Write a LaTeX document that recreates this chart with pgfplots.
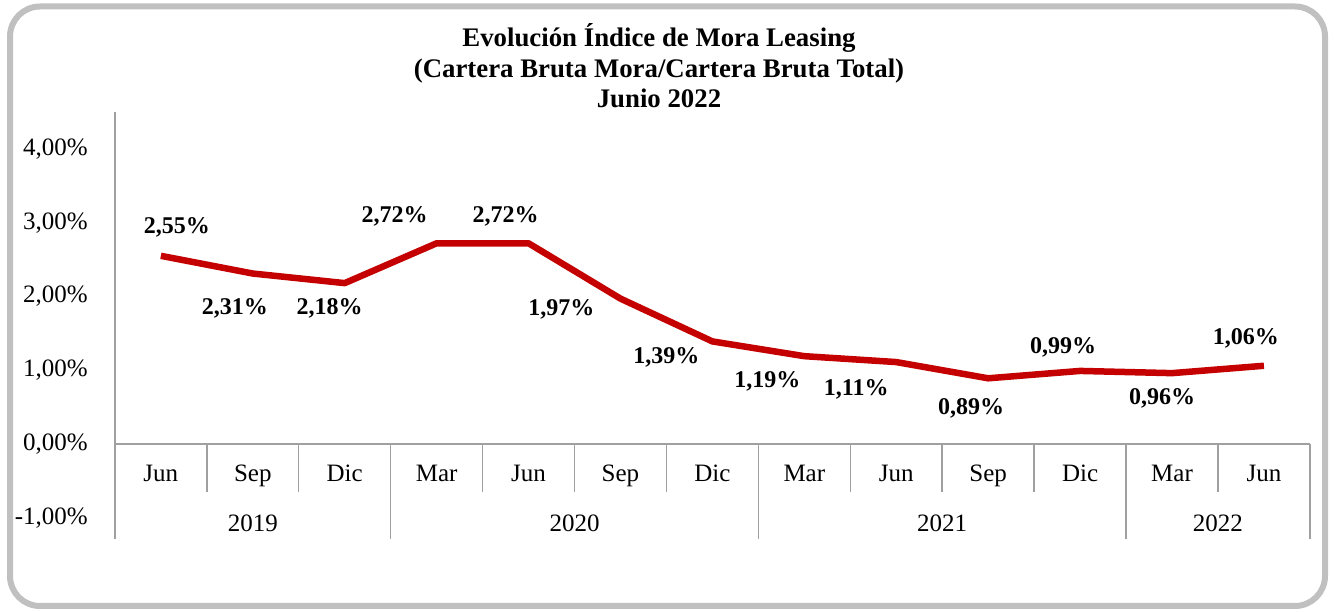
\documentclass[border=0pt]{standalone}
\usepackage{fontspec}
\setmainfont{Liberation Serif}
\usepackage{pgfplots}
\pgfplotsset{compat=1.18}
\usepackage{pgfplotstable}
\definecolor{linered}{RGB}{196,0,0}
\definecolor{axgray}{RGB}{160,160,160}
\definecolor{framegray}{RGB}{192,192,192}

\pgfplotstableread{
x y dx dy
0 2.55 16 28
1 2.31 -18 -34.5
2 2.18 -15 -25
3 2.72 -42 27
4 2.72 -23 27
5 1.97 -59 -11
6 1.39 -46 -16
7 1.19 -37 -25
8 1.11 -40 -27
9 0.89 -17 -30
10 0.99 -17 24
11 0.96 -10 -25
12 1.06 -18 27
}\data

\begin{document}
\begin{tikzpicture}[x=1pt,y=1pt]
\useasboundingbox (0,0) rectangle (1335,612);
\draw[framegray, line width=6pt, rounded corners=30pt] (10,6) rectangle (1325,605.5);
\node[font=\fontsize{26.8}{30.5}\selectfont\bfseries, align=center] at (659,546) {Evolución Índice de Mora Leasing\\(Cartera Bruta Mora/Cartera Bruta Total)\\Junio 2022};
\begin{axis}[
  at={(125,99)}, anchor=south west,
  scale only axis, width=1195pt, height=427pt,
  xmin=-0.5, xmax=12.5, ymin=-1.2873, ymax=4.5,
  axis lines=left, axis line style={draw=none,-},
  major tick length=0pt,
  clip=false,
  ytick={-1,0,1,2,3,4},
  yticklabels={{-1,00\%},{0,00\%},{1,00\%},{2,00\%},{3,00\%},{4,00\%}},
  yticklabel style={anchor=east, inner sep=0pt, xshift=-27pt},
  xtick={0,...,12},
  xticklabels={Jun,Sep,Dic,Mar,Jun,Sep,Dic,Mar,Jun,Sep,Dic,Mar,Jun},
  xticklabel style={anchor=base, inner sep=0pt, yshift=57pt},
  tick label style={font=\fontsize{25}{30}\selectfont},
]
\draw[axgray, line width=1.5pt] (axis cs:-0.5,4.5) -- (axis cs:-0.5,-1.2873);
\draw[axgray, line width=1.5pt] (axis cs:-0.5,0) -- (axis cs:12.5,0);
\draw[axgray, line width=1.5pt]
  (axis cs:0.5,0) -- (axis cs:0.5,-0.65)
  (axis cs:1.5,0) -- (axis cs:1.5,-0.65)
  (axis cs:3.5,0) -- (axis cs:3.5,-0.65)
  (axis cs:4.5,0) -- (axis cs:4.5,-0.65)
  (axis cs:5.5,0) -- (axis cs:5.5,-0.65)
  (axis cs:7.5,0) -- (axis cs:7.5,-0.65)
  (axis cs:8.5,0) -- (axis cs:8.5,-0.65)
  (axis cs:9.5,0) -- (axis cs:9.5,-0.65)
  (axis cs:11.5,0) -- (axis cs:11.5,-0.65)
  (axis cs:2.5,0) -- (axis cs:2.5,-1.2873)
  (axis cs:6.5,0) -- (axis cs:6.5,-1.2873)
  (axis cs:10.5,0) -- (axis cs:10.5,-1.2873)
  (axis cs:12.5,0) -- (axis cs:12.5,-1.2873);
\node[font=\fontsize{25}{30}\selectfont, anchor=base, inner sep=0pt] at (axis cs:1,-1.18) {2019};
\node[font=\fontsize{25}{30}\selectfont, anchor=base, inner sep=0pt] at (axis cs:4.5,-1.18) {2020};
\node[font=\fontsize{25}{30}\selectfont, anchor=base, inner sep=0pt] at (axis cs:8.5,-1.18) {2021};
\node[font=\fontsize{25}{30}\selectfont, anchor=base, inner sep=0pt] at (axis cs:11.5,-1.18) {2022};
\addplot[linered, line width=6.5pt, line join=round, mark=none,
  visualization depends on={\thisrow{dx} \as \myDx},
  visualization depends on={\thisrow{dy} \as \myDy},
  point meta=explicit,
  nodes near coords={\pgfmathprintnumber[fixed,fixed zerofill,precision=2,use comma,assume math mode=true]{\pgfplotspointmeta}\%},
  every node near coord/.append style={anchor=center, xshift=\myDx pt, yshift=\myDy pt, text=black, inner sep=0pt, font=\fontsize{24}{28}\selectfont\bfseries},
] table[x=x, y=y, meta=y] {\data};
\end{axis}
\end{tikzpicture}
\end{document}
